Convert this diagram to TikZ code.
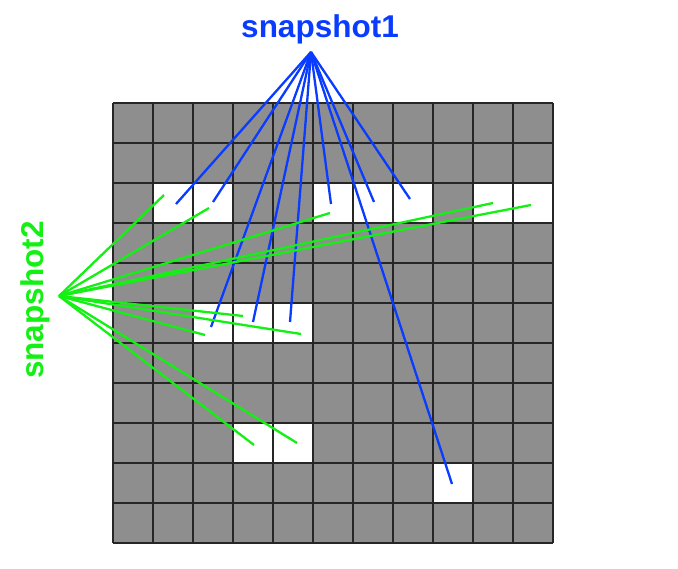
\documentclass[tikz,border=0pt]{standalone}
\usepackage{fontspec}
\setmainfont{Liberation Sans}
\definecolor{snapblue}{RGB}{10,60,255}
\definecolor{snapgreen}{RGB}{20,240,20}
\definecolor{cellgray}{RGB}{142,142,142}
\tikzset{
  cellfree/.style={fill=white},
  gridline/.style={draw=black!85,line width=1.5pt},
  blueline/.style={draw=snapblue,line width=2.3pt},
  greenline/.style={draw=snapgreen,line width=2.3pt},
  snaplabel/.style={font=\bfseries\fontsize{31.5}{31.5}\selectfont,inner sep=0pt}
}
\begin{document}
\begin{tikzpicture}[x=1pt,y=-1pt]
  \useasboundingbox (0,0) rectangle (678,569);
  % grid of cells
  \fill[cellgray] (113,103) rectangle (553,543);
  \fill[cellfree] (153,183) rectangle (233,223);
  \fill[cellfree] (313,183) rectangle (433,223);
  \fill[cellfree] (473,183) rectangle (553,223);
  \fill[cellfree] (193,303) rectangle (313,343);
  \fill[cellfree] (233,423) rectangle (313,463);
  \fill[cellfree] (433,463) rectangle (473,503);
  \foreach \i in {0,...,11} {
    \draw[gridline] (113+40*\i,103) -- (113+40*\i,543);
    \draw[gridline] (113,103+40*\i) -- (553,103+40*\i);
  }
  % labels
  \node[snaplabel,text=snapblue] (snap1) at (320,29) {snapshot1};
  \node[snaplabel,text=snapgreen,rotate=90] (snap2) at (35,300) {snapshot2};
  \coordinate (s1) at (311,52);
  \coordinate (s2) at (59,296);
  % snapshot1 ends
  \coordinate (b1) at (176,204);
  \coordinate (b2) at (213,202);
  \coordinate (b3) at (211,327);
  \coordinate (b4) at (253,322);
  \coordinate (b5) at (290,322);
  \coordinate (b6) at (331,204);
  \coordinate (b7) at (374,202);
  \coordinate (b8) at (410,199);
  \coordinate (b9) at (452,484);
  % snapshot2 ends
  \coordinate (g1) at (164,195);
  \coordinate (g2) at (209,208);
  \coordinate (g3) at (330,213);
  \coordinate (g4) at (493,203);
  \coordinate (g5) at (531,205);
  \coordinate (g6) at (243,316);
  \coordinate (g7) at (205,335);
  \coordinate (g8) at (301,334);
  \coordinate (g9) at (254,445);
  \coordinate (g10) at (297,443);
  \foreach \e in {b1,b2,b3,b4,b5,b6,b7,b8,b9}
    \draw[blueline] (s1) -- (\e);
  \foreach \e in {g1,g2,g3,g4,g5,g6,g7,g8,g9,g10}
    \draw[greenline] (s2) -- (\e);
\end{tikzpicture}
\end{document}
